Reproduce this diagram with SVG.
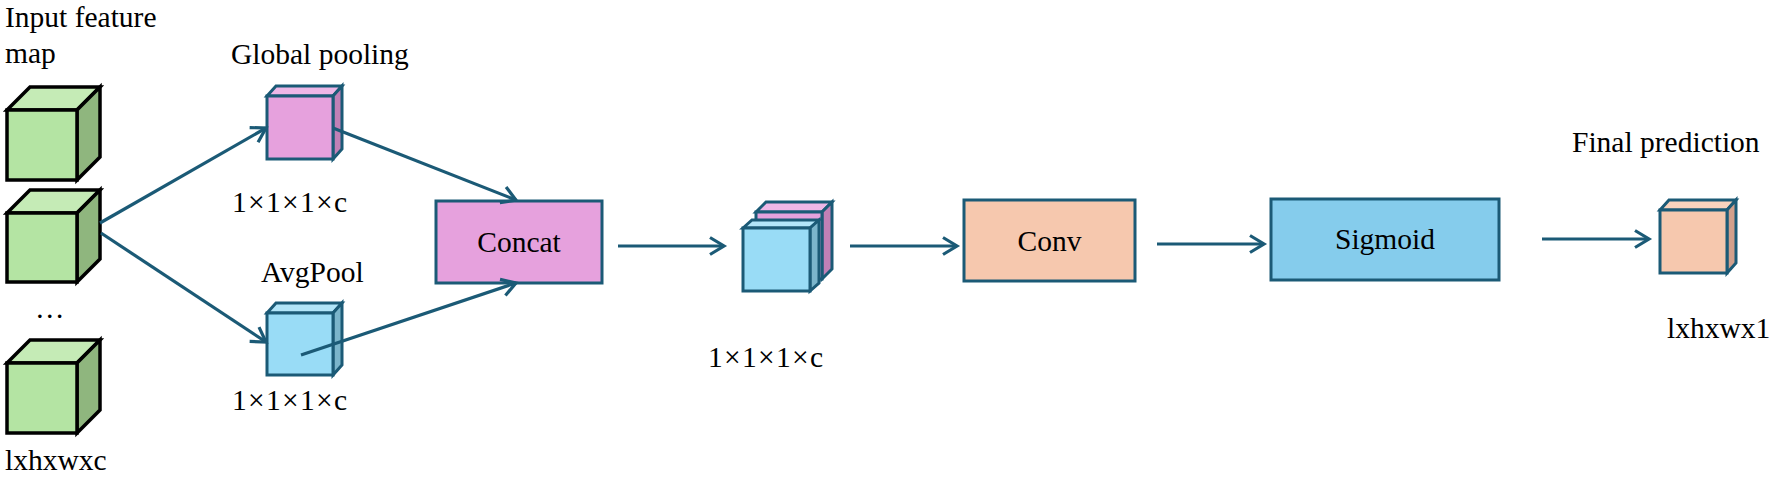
<svg xmlns="http://www.w3.org/2000/svg" width="1772" height="479" viewBox="0 0 1772 479">
<style>
  text { font-family: "Liberation Serif", "Times New Roman", serif; font-size: 29.5px; fill: #000; }
  .mid { text-anchor: middle; }
  .g { stroke: #000; stroke-width: 3.5; stroke-linejoin: miter; }
  .t { stroke: #1b5a76; stroke-width: 3; stroke-linejoin: miter; }
  .gf { fill: #b4e4a3; } .gt { fill: #c5ebb6; } .gs { fill: #8fb67e; }
  .pf { fill: #e6a1dd; } .pt { fill: #eeb7e7; } .ps { fill: #c180b6; }
  .bf { fill: #99dcf6; } .bt { fill: #b2e5f8; } .bs { fill: #7bb5cb; }
  .of { fill: #f6c8ae; } .ot { fill: #f8d3be; } .os { fill: #d2a08c; }
  .conn { stroke: #1b5a76; stroke-width: 3.2; fill: none; marker-end: url(#arr); }
</style>
<defs>
  <marker id="arr" markerUnits="userSpaceOnUse" viewBox="-20 -12 24 24" markerWidth="24" markerHeight="24" refX="0" refY="0" orient="auto">
    <path d="M-14,-8.5 L0,0 L-14,8.5" fill="none" stroke="#1b5a76" stroke-width="3.2" stroke-linejoin="miter"/>
  </marker>
</defs>
<rect width="1772" height="479" fill="#fff"/>

<g id="input-label">
  <text x="5" y="27">Input feature</text>
  <text x="5" y="63">map</text>
</g>

<g id="input-cube-1" class="g">
  <polygon class="gt" points="7,110 30,87 100,87 77,110"/>
  <polygon class="gs" points="77,110 100,87 100,157 77,180"/>
  <rect class="gf" x="7" y="110" width="70" height="70"/>
</g>
<g id="input-cube-2" class="g">
  <polygon class="gt" points="7,213 30,190 100,190 77,213"/>
  <polygon class="gs" points="77,213 100,190 100,259 77,282"/>
  <rect class="gf" x="7" y="213" width="70" height="69"/>
</g>
<g id="ellipsis">
  <text x="35" y="318">…</text>
</g>
<g id="input-cube-3" class="g">
  <polygon class="gt" points="7,363 30,340 100,340 77,363"/>
  <polygon class="gs" points="77,363 100,340 100,410 77,433"/>
  <rect class="gf" x="7" y="363" width="70" height="70"/>
</g>
<g id="input-dim"><text x="5" y="470">lxhxwxc</text></g>

<g id="global-pooling">
  <text x="231" y="64">Global pooling</text>
  <g class="t">
    <polygon class="pt" points="267,96 276,86 342,86 333,96"/>
    <polygon class="ps" points="333,96 342,86 342,149 333,159"/>
    <rect class="pf" x="267" y="96" width="66" height="63"/>
  </g>
  <text x="232" y="212" textLength="115">1×1×1×c</text>
</g>

<g id="avgpool">
  <text x="261" y="282">AvgPool</text>
  <g class="t">
    <polygon class="bt" points="267,313 276,303 342,303 333,313"/>
    <polygon class="bs" points="333,313 342,303 342,365 333,375"/>
    <rect class="bf" x="267" y="313" width="66" height="62"/>
  </g>
  <text x="232" y="410" textLength="115">1×1×1×c</text>
</g>

<g id="concat">
  <rect class="t pf" x="436" y="201" width="166" height="82"/>
  <text class="mid" x="519" y="252">Concat</text>
</g>

<g id="stacked">
  <g class="t">
    <polygon class="pt" points="756,212 766,202 832,202 822,212"/>
    <polygon class="ps" points="822,212 832,202 832,269 822,279"/>
    <rect class="pf" x="756" y="212" width="66" height="67"/>
  </g>
  <g class="t">
    <polygon class="bt" points="743,228 752,220 819,220 810,228"/>
    <polygon class="bs" points="810,228 819,220 819,283 810,291"/>
    <rect class="bf" x="743" y="228" width="67" height="63"/>
  </g>
  <text x="708" y="367" textLength="115">1×1×1×c</text>
</g>

<g id="conv">
  <rect class="t of" x="964" y="200" width="171" height="81"/>
  <text class="mid" x="1049.5" y="251">Conv</text>
</g>

<g id="sigmoid">
  <rect class="t" fill="#85ccec" x="1271" y="199" width="228" height="81"/>
  <text class="mid" x="1385" y="249">Sigmoid</text>
</g>

<g id="final">
  <text x="1572" y="152">Final prediction</text>
  <g class="t">
    <polygon class="ot" points="1660,210 1669,200 1736,200 1727,210"/>
    <polygon class="os" points="1727,210 1736,200 1736,263 1727,273"/>
    <rect class="of" x="1660" y="210" width="67" height="63"/>
  </g>
  <text x="1667" y="338">lxhxwx1</text>
</g>

<g id="connectors">
  <line class="conn" x1="100" y1="223" x2="266" y2="128"/>
  <line class="conn" x1="101" y1="233" x2="266" y2="342"/>
  <line class="conn" x1="333" y1="128" x2="516" y2="200"/>
  <line class="conn" x1="301" y1="355" x2="516" y2="283"/>
  <line class="conn" x1="618" y1="246" x2="724" y2="246"/>
  <line class="conn" x1="850" y1="246" x2="957" y2="246"/>
  <line class="conn" x1="1157" y1="244" x2="1264" y2="244"/>
  <line class="conn" x1="1542" y1="239" x2="1649" y2="239"/>
</g>
</svg>
